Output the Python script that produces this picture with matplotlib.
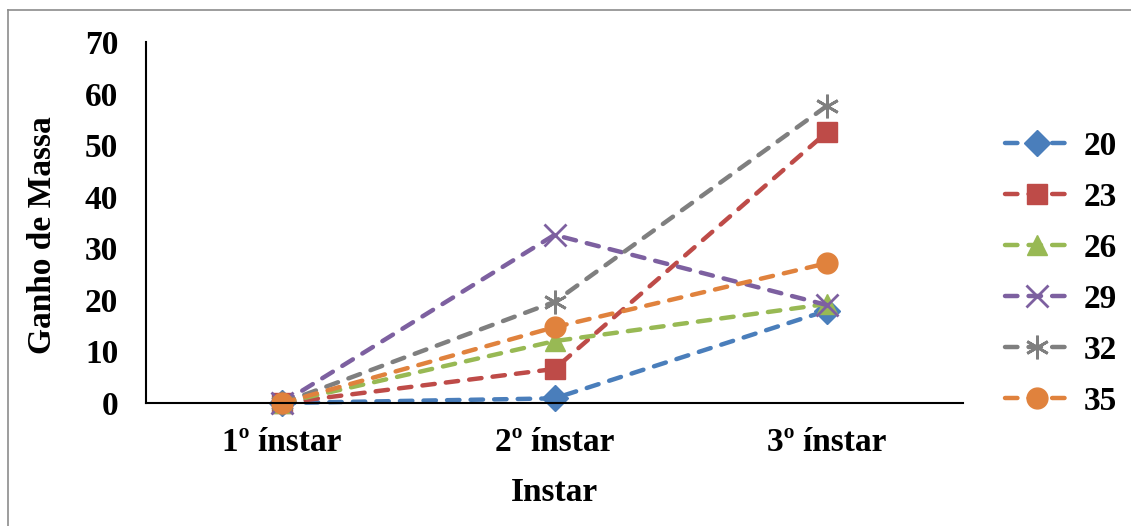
import matplotlib.pyplot as plt
from matplotlib.lines import Line2D

# data
instars = ["1º ínstar", "2º ínstar", "3º ínstar"]
temps = ["20", "23", "26", "29", "32", "35"]
g20 = [0, 0.9, 17.9]
g23 = [0, 6.6, 52.5]
g26 = [0, 12.0, 19.2]
g29 = [0, 32.6, 19.0]
g32 = [0, 19.6, 57.6]
g35 = [0, 14.7, 27.1]

series = [g20, g23, g26, g29, g32, g35]
colors = ["#4a7ebb", "#be4b48", "#98b954", "#7d60a0", "#7f7f7f", "#e0823d"]
markers = ["D", "s", "^", "x", "*", "o"]
msizes = [13, 14, 15, 16, 17, 15]

plt.rcParams["font.family"] = ["Liberation Serif", "DejaVu Serif"]
plt.rcParams["font.weight"] = "bold"

fig = plt.figure(figsize=(11.31, 5.26), dpi=100)
ax = fig.add_axes([146/1131, 1 - 403/526, (963-146)/1131, (403-42)/526])

x = range(len(instars))
for vals, lab, c, m, ms in zip(series, temps, colors, markers, msizes):
    if m == "*":
        mk = (6, 2, 0)
    else:
        mk = m
    ax.plot(x, vals, color=c, lw=3.2, dashes=(2.8, 2.5), dash_capstyle="round",
            marker=mk, markersize=ms, markerfacecolor=c, markeredgecolor=c,
            markeredgewidth=2 if m in ("x", "*") else 1, label=lab, clip_on=False)

ax.set_xlim(-0.5, 2.5)
ax.set_ylim(0, 70)
ax.set_yticks(range(0, 71, 10))
ax.set_xticks(list(x))
ax.set_xticklabels(instars)
ax.tick_params(length=0, labelsize=24)
ax.tick_params(axis="x", pad=17)
ax.tick_params(axis="y", pad=20)
for lbl in ax.get_xticklabels() + ax.get_yticklabels():
    lbl.set_fontweight("bold")
ax.spines["top"].set_visible(False)
ax.spines["right"].set_visible(False)
ax.spines["left"].set_linewidth(1.5)
ax.spines["bottom"].set_linewidth(1.5)

ax.set_xlabel("Instar", fontsize=24, fontweight="bold", labelpad=14)
ax.set_ylabel("Ganho de Massa", fontsize=24, fontweight="bold")
ax.yaxis.set_label_coords(-88/817, 0.465)

leg = ax.legend(loc="center left", bbox_to_anchor=(975/1131, 1 - 274/526),
                bbox_transform=fig.transFigure, frameon=False, fontsize=24,
                handlelength=1.9, handletextpad=0.45, labelspacing=0.6,
                markerscale=1.0)
for t in leg.get_texts():
    t.set_fontweight("bold")

# outer chart border (only top and left visible in the crop)
fig.add_artist(Line2D([8/1131, 1.01], [1 - 10/526, 1 - 10/526], transform=fig.transFigure,
                      color="#8c8c8c", lw=1.2))
fig.add_artist(Line2D([8/1131, 8/1131], [-0.01, 1 - 10/526], transform=fig.transFigure,
                      color="#8c8c8c", lw=1.2))

fig.savefig("out.png", dpi=100)
